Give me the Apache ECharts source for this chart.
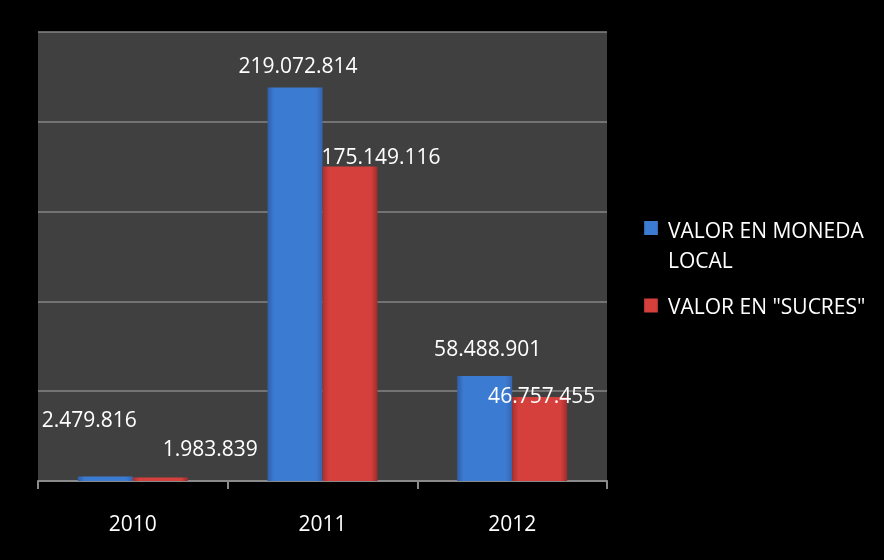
<!DOCTYPE html>
<html>
<head>
<meta charset="utf-8">
<script src="https://cdn.jsdelivr.net/npm/echarts@6/dist/echarts.min.js"></script>
<style>
html,body{margin:0;padding:0;background:#000;}
#chart{width:884px;height:560px;}
</style>
</head>
<body>
<div id="chart"></div>
<script>
var categories = ['2010', '2011', '2012'];
var seriesNames = ['VALOR EN MONEDA LOCAL', 'VALOR EN "SUCRES"'];
var valoresMonedaLocal = [2479816, 219072814, 58488901];
var valoresSucres = [1983839, 175149116, 46757455];
var labelOffsetsLocal = [[-16, -40], [3, -5], [3, -10]];
var labelOffsetsSucres = [[50, -12], [31, 7], [2, 15]];

function fmt(v) {
  return String(v).replace(/\B(?=(\d{3})+(?!\d))/g, '.');
}
function grad(edge, mid, edge2) {
  return new echarts.graphic.LinearGradient(0, 0, 1, 0, [
    {offset: 0, color: edge}, {offset: 0.12, color: mid}, {offset: 0.5, color: mid},
    {offset: 0.88, color: mid}, {offset: 1, color: edge2}
  ]);
}
function buildData(vals, offs) {
  return vals.map(function (v, i) {
    return {value: v, label: {offset: offs[i]}};
  });
}
var FONT = 'Open Sans';
var chart = echarts.init(document.getElementById('chart'));
var labelCommon = {
  show: true, position: 'top', color: '#ffffff', fontFamily: FONT, fontSize: 21,
  formatter: function (p) { return fmt(p.value); }
};
chart.setOption({
  backgroundColor: '#000000',
  animation: false,
  grid: {left: 38, right: 277, top: 32, bottom: 79, show: true, backgroundColor: '#404040', borderWidth: 0},
  legend: {
    orient: 'vertical', left: 644, top: 193, padding: 0, itemGap: 16,
    itemWidth: 14, itemHeight: 14, icon: 'rect',
    textStyle: {
      color: '#ffffff', fontFamily: FONT, fontSize: 21,
      rich: {
        e1: {lineHeight: 38, fontSize: 10},
        e2: {lineHeight: 6, fontSize: 4},
        t: {lineHeight: 30, color: '#ffffff', fontFamily: FONT, fontSize: 21, padding: [0, 0, 0, 5]}
      }
    },
    data: [seriesNames[0], seriesNames[1]],
    formatter: function (n) {
      return n === seriesNames[0]
        ? '{e1| }\n{t|VALOR EN MONEDA}\n{t|LOCAL}'
        : '{e2| }\n{t|' + n + '}';
    }
  },
  xAxis: {
    type: 'category', data: categories,
    axisLine: {show: true, lineStyle: {color: '#8a8a8a', width: 2}},
    axisTick: {show: true, length: 8, lineStyle: {color: '#8a8a8a', width: 2}},
    axisLabel: {color: '#ffffff', fontFamily: FONT, fontSize: 21, margin: 34},
    splitLine: {show: false}
  },
  yAxis: {
    type: 'value', min: 0, max: 250000000, interval: 50000000,
    axisLine: {show: false}, axisTick: {show: false}, axisLabel: {show: false},
    splitLine: {show: true, lineStyle: {color: '#858585', width: 1.5}}
  },
  series: [
    {
      name: seriesNames[0], type: 'bar', barWidth: 55, barGap: '0%',
      itemStyle: {color: grad('#2d5ea8', '#3c7bd2', '#3564b0')},
      label: labelCommon,
      data: buildData(valoresMonedaLocal, labelOffsetsLocal)
    },
    {
      name: seriesNames[1], type: 'bar', barWidth: 55, barGap: '0%',
      itemStyle: {color: grad('#a83030', '#d5403d', '#9e2c2c')},
      label: labelCommon,
      data: buildData(valoresSucres, labelOffsetsSucres)
    }
  ]
});
</script>
</body>
</html>
